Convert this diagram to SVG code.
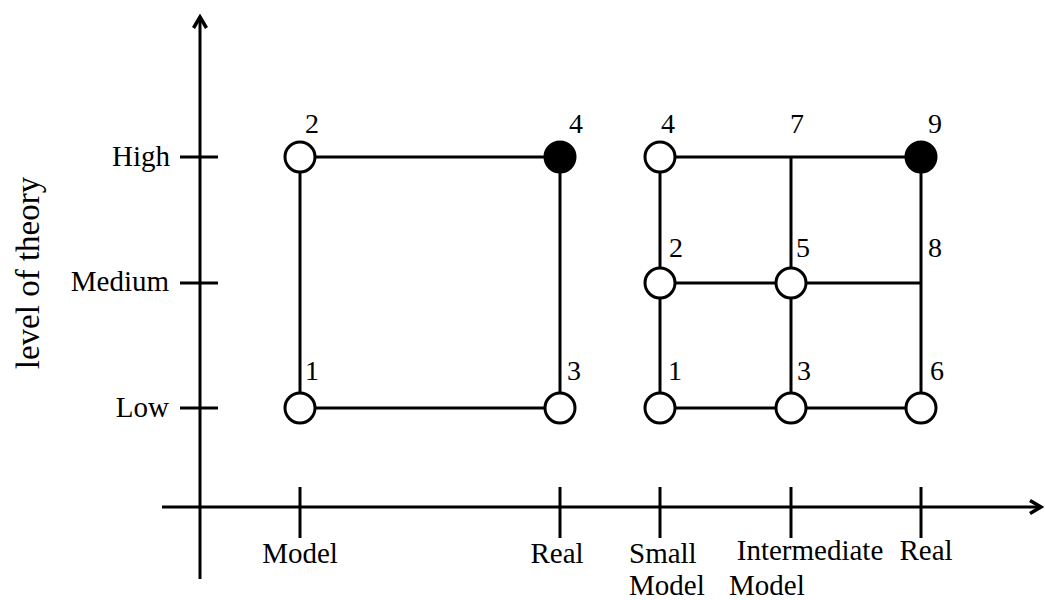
<svg xmlns="http://www.w3.org/2000/svg" width="1045" height="600" viewBox="0 0 1045 600">
<defs>
<style>
.ln{stroke:#000;stroke-width:3;fill:none}
.nd{stroke:#000;stroke-width:3;fill:#fff}
.nd.f{fill:#000}
.t{font-family:"Liberation Serif","Times New Roman",serif;font-size:29px;fill:#000}
.n{font-family:"Liberation Serif","Times New Roman",serif;font-size:28px;fill:#000;text-anchor:middle}
</style>
<marker id="ah" markerWidth="16" markerHeight="16" refX="13" refY="8" orient="auto" markerUnits="userSpaceOnUse" viewBox="0 0 16 16">
<path d="M2,1.5 L13,8 L2,14.5" fill="none" stroke="#000" stroke-width="3.5"/>
</marker>
</defs>
<rect width="1045" height="600" fill="#fff"/>
<g id="axes">
<line class="ln" x1="200" y1="579" x2="200" y2="17" marker-end="url(#ah)"/>
<line class="ln" x1="162" y1="507" x2="1041" y2="507" marker-end="url(#ah)"/>
<line class="ln" x1="180" y1="157" x2="218" y2="157"/>
<line class="ln" x1="180" y1="283" x2="218" y2="283"/>
<line class="ln" x1="180" y1="408" x2="218" y2="408"/>
<line class="ln" x1="300" y1="487" x2="300" y2="538"/>
<line class="ln" x1="560" y1="487" x2="560" y2="538"/>
<line class="ln" x1="660" y1="487" x2="660" y2="538"/>
<line class="ln" x1="791" y1="487" x2="791" y2="538"/>
<line class="ln" x1="921" y1="487" x2="921" y2="538"/>
<text class="t" x="170" y="166" text-anchor="end">High</text>
<text class="t" x="169" y="291" text-anchor="end">Medium</text>
<text class="t" x="169" y="417" text-anchor="end">Low</text>
<text class="t" x="0" y="0" text-anchor="middle" transform="translate(39,273) rotate(-90)" style="font-size:33px">level of theory</text>
<text class="t" x="300" y="563" text-anchor="middle">Model</text>
<text class="t" x="557" y="563" text-anchor="middle">Real</text>
<text class="t" x="629" y="563">Small</text>
<text class="t" x="629" y="595">Model</text>
<text class="t" x="810" y="560" text-anchor="middle">Intermediate</text>
<text class="t" x="729" y="595">Model</text>
<text class="t" x="926" y="560" text-anchor="middle">Real</text>
</g>
<g id="connectors">
<line class="ln" x1="300" y1="157" x2="560" y2="157"/>
<line class="ln" x1="300" y1="408" x2="560" y2="408"/>
<line class="ln" x1="300" y1="157" x2="300" y2="408"/>
<line class="ln" x1="560" y1="157" x2="560" y2="408"/>
<line class="ln" x1="660" y1="157" x2="921" y2="157"/>
<line class="ln" x1="660" y1="283" x2="921" y2="283"/>
<line class="ln" x1="660" y1="408" x2="921" y2="408"/>
<line class="ln" x1="660" y1="157" x2="660" y2="408"/>
<line class="ln" x1="791" y1="157" x2="791" y2="408"/>
<line class="ln" x1="921" y1="157" x2="921" y2="408"/>
</g>
<g id="left-1"><circle class="nd" cx="300" cy="408" r="15"/><text class="n" x="312" y="380">1</text></g>
<g id="left-2"><circle class="nd" cx="300" cy="157" r="15"/><text class="n" x="312" y="133">2</text></g>
<g id="left-3"><circle class="nd" cx="560" cy="408" r="15"/><text class="n" x="574" y="380">3</text></g>
<g id="left-4"><circle class="nd f" cx="560" cy="157" r="15"/><text class="n" x="576" y="133">4</text></g>
<g id="right-1"><circle class="nd" cx="660" cy="408" r="15"/><text class="n" x="675" y="380">1</text></g>
<g id="right-2"><circle class="nd" cx="660" cy="283" r="15"/><text class="n" x="676" y="257">2</text></g>
<g id="right-3"><circle class="nd" cx="791" cy="408" r="15"/><text class="n" x="804" y="380">3</text></g>
<g id="right-4"><circle class="nd" cx="660" cy="157" r="15"/><text class="n" x="668" y="133">4</text></g>
<g id="right-5"><circle class="nd" cx="791" cy="283" r="15"/><text class="n" x="803" y="257">5</text></g>
<g id="right-6"><circle class="nd" cx="921" cy="408" r="15"/><text class="n" x="937" y="380">6</text></g>
<g id="right-7"><text class="n" x="797" y="133">7</text></g>
<g id="right-8"><text class="n" x="935" y="257">8</text></g>
<g id="right-9"><circle class="nd f" cx="921" cy="157" r="15"/><text class="n" x="935" y="133">9</text></g>
</svg>
